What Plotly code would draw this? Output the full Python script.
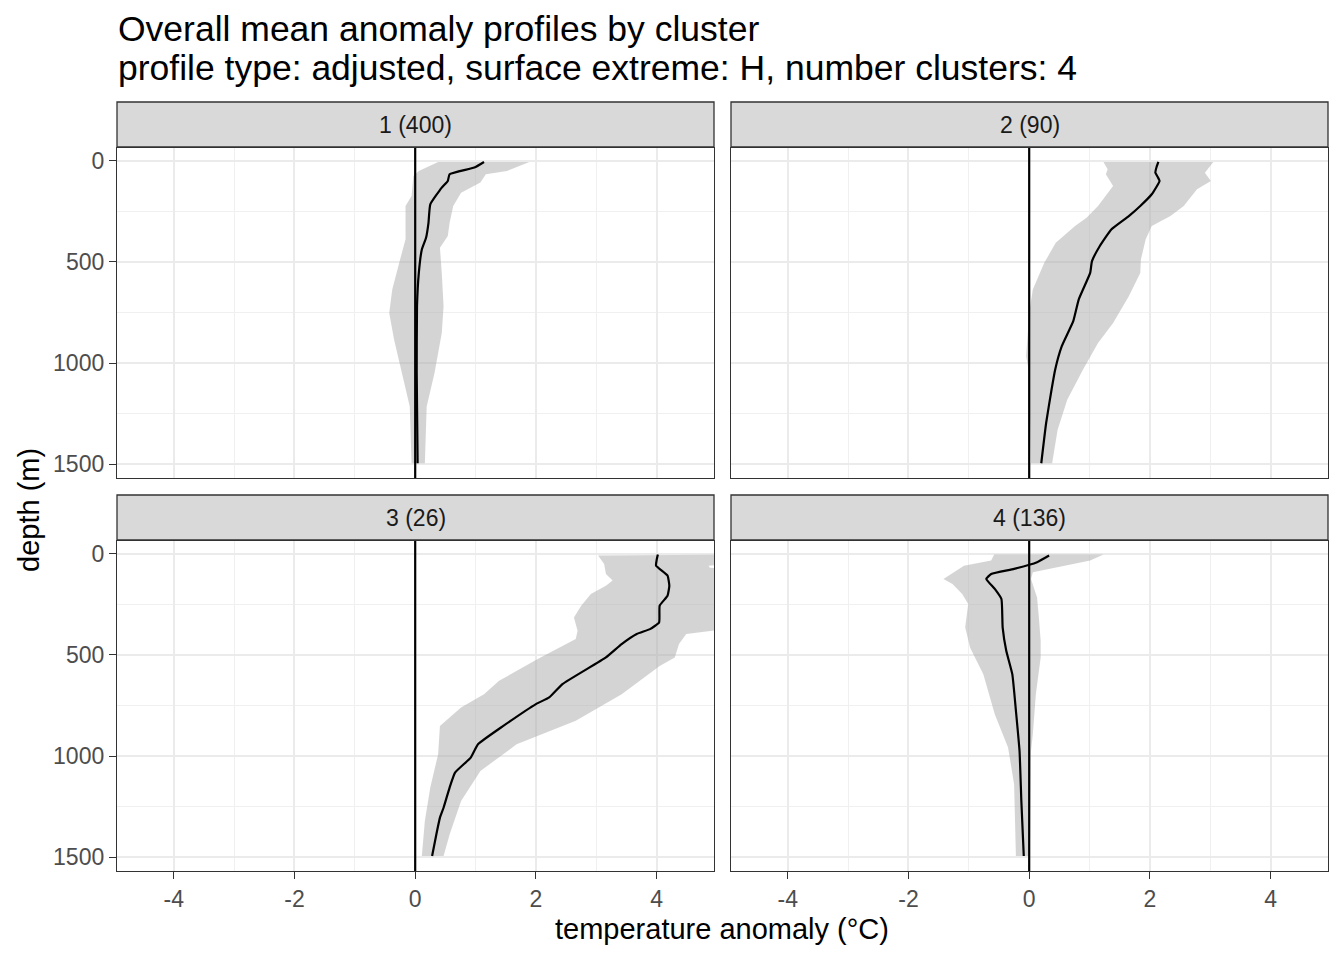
import plotly.graph_objects as go

# ---------------- data ----------------
panel_labels = ["1 (400)", "2 (90)", "3 (26)", "4 (136)"]
x_ticks = [-4, -2, 0, 2, 4]
x_tick_text = ["-4", "-2", "0", "2", "4"]
y_ticks = [0, 500, 1000, 1500]
y_tick_text = ["0", "500", "1000", "1500"]

# cluster 1
c1_mean_depth = [5, 33, 66, 99, 132, 215, 306, 380, 438, 554, 719, 1050, 1496]
c1_mean = [1.14, 0.98, 0.57, 0.54, 0.44, 0.25, 0.22, 0.18, 0.11, 0.06, 0.03, 0.025, 0.04]
c1_lo_depth = [5, 50, 74, 174, 223, 388, 488, 636, 752, 884, 1050, 1215, 1496]
c1_lo = [0.38, 0.06, -0.03, -0.06, -0.16, -0.16, -0.25, -0.38, -0.43, -0.35, -0.22, -0.09, -0.06]
c1_hi_depth = [5, 50, 66, 107, 157, 223, 306, 372, 430, 554, 719, 851, 1050, 1215, 1496]
c1_hi = [1.89, 1.52, 1.17, 1.08, 0.76, 0.63, 0.57, 0.54, 0.41, 0.44, 0.47, 0.44, 0.32, 0.19, 0.16]

# cluster 2
c2_mean_depth = [5, 30, 58, 80, 99, 165, 223, 273, 339, 421, 496, 554, 686, 793, 917, 1033, 1132, 1298, 1496]
c2_mean = [2.14, 2.11, 2.09, 2.13, 2.16, 2.03, 1.84, 1.65, 1.36, 1.17, 1.04, 1.01, 0.82, 0.73, 0.54, 0.43, 0.37, 0.28, 0.20]
c2_lo_depth = [5, 41, 66, 124, 223, 281, 322, 405, 504, 636, 752, 967, 1050, 1496]
c2_lo = [1.23, 1.30, 1.27, 1.39, 1.14, 0.95, 0.76, 0.44, 0.25, 0.06, 0.0, -0.05, 0.0, 0.03]
c2_hi_depth = [5, 58, 99, 140, 223, 273, 322, 388, 488, 554, 669, 802, 901, 1033, 1182, 1331, 1496]
c2_hi = [3.05, 2.91, 3.01, 2.78, 2.56, 2.34, 2.03, 1.93, 1.85, 1.84, 1.65, 1.39, 1.14, 0.89, 0.63, 0.47, 0.38]

# cluster 3
c3_mean_depth = [3, 30, 58, 107, 157, 207, 256, 339, 372, 396, 446, 512, 644, 710, 743, 851, 942, 1008, 1082, 1156, 1256, 1305, 1388, 1495]
c3_mean = [4.02, 4.00, 3.99, 4.18, 4.21, 4.18, 4.05, 4.04, 3.89, 3.67, 3.42, 3.16, 2.44, 2.22, 2.00, 1.46, 1.04, 0.92, 0.66, 0.57, 0.47, 0.41, 0.35, 0.28]
c3_lo_depth = [8, 50, 99, 132, 157, 198, 256, 314, 380, 421, 520, 628, 694, 760, 851, 991, 1156, 1322, 1495]
c3_lo = [3.03, 3.13, 3.16, 3.27, 3.16, 2.91, 2.75, 2.63, 2.69, 2.66, 2.03, 1.39, 1.14, 0.76, 0.41, 0.38, 0.25, 0.16, 0.11]
c3_hi_depth = [3, 40, 58, 68, 78, 200, 370, 396, 446, 512, 554, 694, 826, 942, 1074, 1223, 1388, 1495]
c3_hi = [5.8, 5.6, 4.86, 4.88, 5.5, 5.6, 5.2, 4.49, 4.37, 4.30, 4.05, 3.42, 2.66, 1.68, 1.08, 0.76, 0.57, 0.47]

# cluster 4
c4_mean_depth = [8, 41, 74, 99, 124, 173, 223, 363, 479, 595, 776, 975, 1223, 1495]
c4_mean = [0.33, 0.13, -0.25, -0.63, -0.71, -0.57, -0.46, -0.44, -0.38, -0.28, -0.22, -0.16, -0.13, -0.09]
c4_lo_depth = [3, 33, 58, 124, 149, 198, 248, 363, 463, 595, 793, 958, 1140, 1495]
c4_lo = [-0.58, -0.63, -1.08, -1.42, -1.27, -1.11, -1.01, -1.06, -0.98, -0.76, -0.57, -0.35, -0.25, -0.22]
c4_hi_depth = [3, 33, 91, 124, 215, 314, 430, 512, 694, 892, 975, 1495]
c4_hi = [1.23, 1.01, 0.06, 0.03, 0.13, 0.16, 0.19, 0.19, 0.11, 0.06, 0.03, 0.01]

clusters = [
    (c1_mean_depth, c1_mean, c1_lo_depth, c1_lo, c1_hi_depth, c1_hi),
    (c2_mean_depth, c2_mean, c2_lo_depth, c2_lo, c2_hi_depth, c2_hi),
    (c3_mean_depth, c3_mean, c3_lo_depth, c3_lo, c3_hi_depth, c3_hi),
    (c4_mean_depth, c4_mean, c4_lo_depth, c4_lo, c4_hi_depth, c4_hi),
]

# ---------------- layout geometry (page pixels, body margin 8px) ----------------
OFF = 8
W, H = 1344 - 2 * OFF, 960 - 2 * OFF
FONT = "Liberation Sans"


def fx(p):
    return (p - OFF) / W


def fy(p):
    return 1 - (p - OFF) / H


px_x = [(117, 714), (731, 1328), (117, 714), (731, 1328)]
px_y = [(148, 478), (148, 478), (541, 871), (541, 871)]
strip_y = [(102, 147), (102, 147), (495, 540), (495, 540)]

fig = go.Figure()
layout = dict(
    width=W, height=H, margin=dict(l=0, r=0, t=0, b=0),
    paper_bgcolor="white", plot_bgcolor="white", showlegend=False,
    font=dict(family=FONT, color="#1A1A1A"),
)
shapes = []
annotations = []

for i, (md, mv, ld, lv, hd, hv) in enumerate(clusters):
    n = "" if i == 0 else str(i + 1)
    xa, ya = "x" + n, "y" + n
    # ribbon
    fig.add_trace(go.Scatter(
        x=list(lv) + list(hv)[::-1], y=list(ld) + list(hd)[::-1],
        fill="toself", fillcolor="rgba(170,170,170,0.5)", mode="lines",
        line=dict(width=0, color="rgba(0,0,0,0)"), hoverinfo="skip",
        xaxis=xa, yaxis=ya))
    # mean line
    fig.add_trace(go.Scatter(
        x=mv, y=md, mode="lines", line=dict(color="black", width=2.2, shape="spline", smoothing=0.4),
        xaxis=xa, yaxis=ya))
    x0, x1 = px_x[i]
    y0, y1 = px_y[i]
    bottom = i >= 2
    left = i % 2 == 0
    layout["xaxis" + n] = dict(
        domain=[fx(x0), fx(x1)], anchor=ya, range=[-4.94, 4.95],
        tickvals=x_ticks, ticktext=x_tick_text,
        showticklabels=bottom, ticks="outside" if bottom else "", ticklen=7,
        tickwidth=1.3, tickcolor="#333333",
        tickfont=dict(size=23, color="#4D4D4D", family=FONT),
        showgrid=True, gridcolor="#EBEBEB", gridwidth=2, zeroline=False,
        minor=dict(dtick=1, tick0=1, showgrid=True, gridcolor="#F0F0F0", gridwidth=1),
        showline=True, mirror=True, linecolor="#333333", linewidth=1.3,
    )
    layout["yaxis" + n] = dict(
        domain=[fy(y1), fy(y0)], anchor=xa, range=[1569, -64],
        tickvals=y_ticks, ticktext=y_tick_text,
        showticklabels=left, ticks="outside" if left else "",
        ticklen=7, tickwidth=1.3, tickcolor="#333333",
        tickfont=dict(size=23, color="#4D4D4D", family=FONT),
        showgrid=True, gridcolor="#EBEBEB", gridwidth=2, zeroline=False,
        minor=dict(dtick=250, tick0=250, showgrid=True, gridcolor="#F0F0F0", gridwidth=1),
        showline=True, mirror=True, linecolor="#333333", linewidth=1.3,
    )
    # zero reference line
    shapes.append(dict(type="line", xref=xa, yref=ya + " domain", x0=0, x1=0, y0=0, y1=1,
                       line=dict(color="black", width=2.2), layer="above"))
    # strip
    s0, s1 = strip_y[i]
    shapes.append(dict(type="rect", xref="paper", yref="paper",
                       x0=fx(x0), x1=fx(x1), y0=fy(s1), y1=fy(s0),
                       fillcolor="#D9D9D9", line=dict(color="#333333", width=1.3)))
    annotations.append(dict(text=panel_labels[i], xref="paper", yref="paper",
                            x=fx((x0 + x1) / 2), y=fy((s0 + s1) / 2),
                            xanchor="center", yanchor="middle", showarrow=False,
                            font=dict(size=23, color="#1A1A1A", family=FONT)))

# titles
annotations.append(dict(text="Overall mean anomaly profiles by cluster", xref="paper", yref="paper",
                        x=fx(116), y=fy(29), xanchor="left", yanchor="middle", showarrow=False,
                        font=dict(size=35.5, color="black", family=FONT)))
annotations.append(dict(text="profile type: adjusted, surface extreme: H, number clusters: 4",
                        xref="paper", yref="paper",
                        x=fx(116), y=fy(68), xanchor="left", yanchor="middle", showarrow=False,
                        font=dict(size=35.5, color="black", family=FONT)))
annotations.append(dict(text="temperature anomaly (°C)", xref="paper", yref="paper",
                        x=fx(722), y=fy(929), xanchor="center", yanchor="middle", showarrow=False,
                        font=dict(size=29, color="black", family=FONT)))
annotations.append(dict(text="depth (m)", xref="paper", yref="paper", textangle=-90,
                        x=fx(29), y=fy(510), xanchor="center", yanchor="middle", showarrow=False,
                        font=dict(size=29, color="black", family=FONT)))

layout["shapes"] = shapes
layout["annotations"] = annotations
fig.update_layout(**layout)
fig.write_html("out.html")
